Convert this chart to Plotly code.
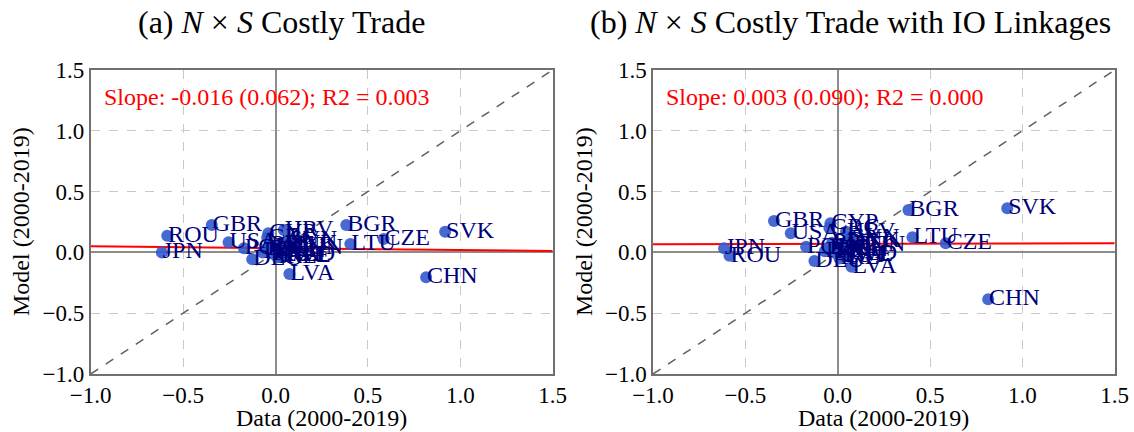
import plotly.graph_objects as go

# ---------------- data ----------------
countries = ["JPN", "ROU", "GBR", "USA", "POL", "DEU", "CYP", "GRC", "ESP", "ITA", "FRA",
             "PRT", "BEL", "AUT", "IRL", "SWE", "EST", "NLD", "DNK", "FIN", "SVN", "HUN",
             "HRV", "LVA", "BGR", "LTU", "CZE", "CHN", "SVK"]
data_x = [-0.615, -0.586, -0.345, -0.254, -0.171, -0.126, -0.039, -0.045, -0.05, -0.07, -0.02,
          -0.03, 0.00, 0.02, 0.01, 0.02, 0.03, 0.05, 0.05, 0.06, 0.07, 0.08,
          0.045, 0.075, 0.383, 0.405, 0.585, 0.815, 0.918]
model_a = [0.00, 0.137, 0.225, 0.083, 0.034, -0.057, 0.157, 0.12, 0.03, 0.00, -0.01,
           0.06, 0.02, 0.05, -0.04, -0.03, -0.02, -0.02, 0.07, 0.01, 0.10, 0.04,
           0.184, -0.178, 0.225, 0.069, 0.110, -0.205, 0.170]
model_b = [0.034, -0.027, 0.258, 0.157, 0.047, -0.071, 0.24, 0.20, 0.04, 0.01, 0.00,
           0.08, 0.03, 0.06, -0.05, -0.02, -0.03, -0.01, 0.09, 0.02, 0.12, 0.06,
           0.170, -0.118, 0.349, 0.124, 0.075, -0.386, 0.363]

fit_a = {"slope": -0.016, "intercept": 0.035, "text": "Slope: -0.016 (0.062); R2 = 0.003"}
fit_b = {"slope": 0.003, "intercept": 0.071, "text": "Slope: 0.003 (0.090); R2 = 0.000"}

titles = ["(a) <i>N</i> × <i>S</i> Costly Trade",
          "(b) <i>N</i> × <i>S</i> Costly Trade with IO Linkages"]
tick_vals = [-1.0, -0.5, 0.0, 0.5, 1.0, 1.5]
tick_text = ["\u22121.0", "\u22120.5", "0.0", "0.5", "1.0", "1.5"]
axis_range = [-1.0, 1.5]
x_title = "Data (2000-2019)"
y_title = "Model (2000-2019)"

# ---------------- figure ----------------
W, H = 1134, 432
FONT = "Liberation Serif"
fig = go.Figure()

panels = [("x", "y", model_a, fit_a), ("x2", "y2", model_b, fit_b)]
for xa, ya, model, fit in panels:
    # diagonal 45-degree line
    fig.add_trace(go.Scatter(x=axis_range, y=axis_range, mode="lines",
                             line=dict(color="#606060", width=1.5, dash="dash"),
                             xaxis=xa, yaxis=ya, showlegend=False, hoverinfo="skip"))
    # regression line
    fx = axis_range
    fy = [fit["intercept"] + fit["slope"] * v for v in fx]
    fig.add_trace(go.Scatter(x=fx, y=fy, mode="lines",
                             line=dict(color="red", width=2),
                             xaxis=xa, yaxis=ya, showlegend=False, hoverinfo="skip"))
    # points
    fig.add_trace(go.Scatter(x=data_x, y=model, mode="markers",
                             marker=dict(color="rgba(50,90,205,0.9)", size=12),
                             xaxis=xa, yaxis=ya, showlegend=False))
    # labels
    fig.add_trace(go.Scatter(x=[v + 0.005 for v in data_x], y=model, mode="text",
                             text=countries, textposition="middle right",
                             textfont=dict(family=FONT, size=24, color="#00007a"),
                             xaxis=xa, yaxis=ya, showlegend=False, hoverinfo="skip"))

ydom = [1 - 374 / H, 1 - 70 / H]
xdoms = [[90.7 / W, 552.7 / W], [653.0 / W, 1114.7 / W]]

axis_common = dict(range=axis_range, tickvals=tick_vals, ticktext=tick_text,
                   showgrid=True, gridcolor="#c8c8c8", griddash="dash", gridwidth=1,
                   zeroline=True, zerolinecolor="#8c8c8c", zerolinewidth=1.5,
                   showline=True, linecolor="#707070", linewidth=1.5, mirror=True,
                   ticks="", tickfont=dict(family=FONT, size=23, color="black"),
                   automargin=False, fixedrange=True)

layout = dict(width=W, height=H, margin=dict(l=0, r=0, t=0, b=0, autoexpand=False),
              plot_bgcolor="white", paper_bgcolor="white", showlegend=False,
              font=dict(family=FONT))
for i, dom in enumerate(xdoms):
    sfx = "" if i == 0 else str(i + 1)
    layout["xaxis" + sfx] = dict(domain=dom, anchor="y" + sfx, **axis_common)
    layout["yaxis" + sfx] = dict(domain=ydom, anchor="x" + sfx, **axis_common)
fig.update_layout(**layout)

anns = []
centers = [281 / W, 850 / W]
ylab_x = [21 / W, 584 / W]
for i, (t, fit) in enumerate(zip(titles, [fit_a, fit_b])):
    anns.append(dict(text=t, x=centers[i], y=1 - 22 / H, xref="paper", yref="paper",
                     xanchor="center", yanchor="middle", showarrow=False,
                     font=dict(family=FONT, size=32, color="black")))
    sfx = "" if i == 0 else str(i + 1)
    anns.append(dict(text=fit["text"], x=0.024, y=0.91, xref="x" + sfx + " domain",
                     yref="y" + sfx + " domain", xanchor="left", yanchor="middle",
                     showarrow=False, font=dict(family=FONT, size=24, color="red")))
    # axis titles
    anns.append(dict(text=x_title, x=0.5, xref="x" + sfx + " domain",
                     y=1 - 418 / H, yref="paper", xanchor="center", yanchor="middle",
                     showarrow=False, font=dict(family=FONT, size=24, color="black")))
    anns.append(dict(text=y_title, x=ylab_x[i], xref="paper",
                     y=0.5, yref="y" + sfx + " domain", xanchor="center", yanchor="middle",
                     textangle=-90, showarrow=False,
                     font=dict(family=FONT, size=24, color="black")))
fig.update_layout(annotations=anns)

fig.write_html("out.html")
